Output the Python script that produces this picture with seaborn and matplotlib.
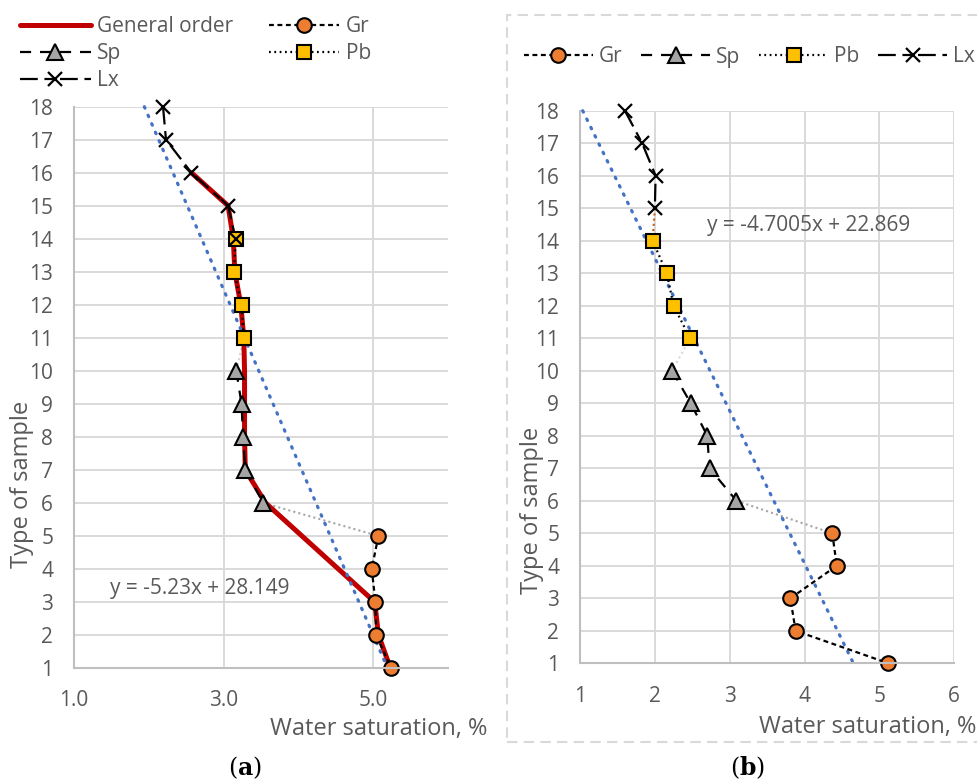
import matplotlib
matplotlib.use("Agg")
import matplotlib.pyplot as plt
import seaborn as sns
import pandas as pd
from matplotlib.patches import Rectangle

# ---------------- data ----------------
# panel (a)
y_gr = [5, 4, 3, 2, 1]
a_gr = [5.07, 4.98, 5.03, 5.04, 5.24]
y_sp = [10, 9, 8, 7, 6]
a_sp = [3.17, 3.24, 3.26, 3.29, 3.53]
y_pb = [14, 13, 12, 11]
a_pb = [3.16, 3.14, 3.24, 3.27]
y_lx_a = [18, 17, 16, 15, 14]
a_lx = [2.19, 2.23, 2.57, 3.06, 3.16]
y_general = [16, 15, 14, 13, 12, 11, 10, 9, 8, 7, 6, 3, 2, 1]
a_general = [2.57, 3.06, 3.13, 3.15, 3.23, 3.27, 3.28, 3.28, 3.28, 3.29, 3.56, 5.02, 5.07, 5.23]
trend_a = (-5.23, 28.149)

# panel (b)
b_gr = [4.37, 4.43, 3.81, 3.88, 5.12]
b_sp = [2.23, 2.48, 2.70, 2.73, 3.09]
b_pb = [1.97, 2.16, 2.25, 2.47]
y_lx_b = [18, 17, 16, 15]
b_lx = [1.60, 1.83, 2.01, 2.00]
trend_b = (-4.7005, 22.869)

y_ticks = list(range(1, 19))
xticks_a = [1, 3, 5]
xticks_b = [1, 2, 3, 4, 5, 6]

# ---------------- style ----------------
sns.set_theme(style="white")
plt.rcParams["font.family"] = ["Open Sans", "DejaVu Sans"]
plt.rcParams["mathtext.fontset"] = "dejavuserif"
TXT = "#595959"
GRID = "#d9d9d9"
TICK_FS = 15
LAB_FS = 17
LEG_FS = 15

fig = plt.figure(figsize=(9.77, 7.80), dpi=100)
W, H = 977, 780
ax_a = fig.add_axes([74 / W, 1 - 668 / H, (448 - 74) / W, (668 - 106.7) / H])
ax_b = fig.add_axes([580 / W, 1 - 663.3 / H, (954.3 - 580) / W, (663.3 - 110.7) / H])

def line(ax, x, y, **kw):
    df = pd.DataFrame({"x": x, "y": y})
    sns.lineplot(data=df, x="x", y="y", sort=False, estimator=None, ax=ax, legend=False, **kw)
    return ax.lines[-1]

def series_styles():
    return dict(
        gr=dict(color="black", lw=1.6, linestyle=(0, (2.2, 1.6)), marker="o", markersize=10.5,
                markerfacecolor="#ED7D31", markeredgecolor="black", markeredgewidth=1.5, clip_on=False),
        sp=dict(color="black", lw=1.6, linestyle=(0, (5, 4)), marker="^", markersize=11.5,
                markerfacecolor="#A5A5A5", markeredgecolor="black", markeredgewidth=1.5, clip_on=False),
        pb=dict(color="black", lw=1.6, linestyle=(0, (0.8, 1.6)), marker="s", markersize=10,
                markerfacecolor="#FFC000", markeredgecolor="black", markeredgewidth=1.5, clip_on=False),
        lx=dict(color="black", lw=1.6, linestyle=(0, (8, 3, 4, 3)), marker="x", markersize=10,
                markeredgecolor="black", markeredgewidth=1.6, clip_on=False),
    )

def setup(ax, xticks, fmt):
    ax.set_xlim(1, 6)
    ax.set_ylim(1, 18)
    ax.set_xticks(xticks)
    ax.set_xticklabels([fmt.format(t) for t in xticks])
    ax.set_yticks(y_ticks)
    ax.grid(True, color=GRID, lw=1.4)
    ax.set_axisbelow(True)
    for s in ["top", "right"]:
        ax.spines[s].set_visible(False)
    for s in ["left", "bottom"]:
        ax.spines[s].set_color("#bfbfbf")
        ax.spines[s].set_linewidth(1.5)
    ax.tick_params(axis="both", length=0, labelsize=TICK_FS, colors=TXT)
    ax.tick_params(axis="y", pad=15)
    ax.tick_params(axis="x", pad=16)

def dotted_trend(ax, coef):
    ty = [18, 1]
    line(ax, [(v - coef[1]) / coef[0] for v in ty], ty, color="#4472C4", lw=2.3,
         linestyle=(0, (0.5, 2.4)), dash_capstyle="round", clip_on=False)

# ---------------- panel (a) ----------------
ax = ax_a
setup(ax, xticks_a, "{:.1f}")
st = series_styles()
line(ax, [a_pb[-1], a_sp[0]], [y_pb[-1], y_sp[0]], color="#d4d4d4", lw=1.5, linestyle=(0, (1, 1.5)))
line(ax, [a_sp[-1], a_gr[0]], [y_sp[-1], y_gr[0]], color="#a6a6a6", lw=1.5, linestyle=(0, (1, 1.5)))
h_gen = line(ax, a_general, y_general, color="#C00000", lw=3.6, solid_joinstyle="round",
             solid_capstyle="round", clip_on=False)
dotted_trend(ax, trend_a)
h_lx = line(ax, a_lx, y_lx_a, **st["lx"])
h_sp = line(ax, a_sp, y_sp, **st["sp"])
h_pb = line(ax, a_pb, y_pb, **st["pb"])
h_gr = line(ax, a_gr, y_gr, **st["gr"])
line(ax, a_lx[-1:], y_lx_a[-1:], **st["lx"])
ax.set_xlim(1, 6); ax.set_ylim(1, 18)
ax.text(1.48, 3.42, "y = -5.23x + 28.149", fontsize=TICK_FS, color=TXT, va="center", ha="left")
ax.set_xlabel("Water saturation, %", fontsize=LAB_FS, color=TXT, loc="right")
ax.xaxis.set_label_coords(1.104, -0.088)
ax.set_ylabel("Type of sample", fontsize=LAB_FS, color=TXT, va="center")
ax.yaxis.set_label_coords(-0.139, 0.328)
leg_a = ax.legend([h_gen, h_sp, h_lx, h_gr, h_pb], ["General order", "Sp", "Lx", "Gr", "Pb"],
                  ncol=2, loc="upper left", bbox_to_anchor=(20 / W, 1 - 16 / H),
                  bbox_transform=fig.transFigure, frameon=False, fontsize=LEG_FS,
                  handlelength=3.4, handletextpad=0.3, labelspacing=0.3,
                  columnspacing=1.7, borderpad=0, borderaxespad=0)
for t in leg_a.get_texts():
    t.set_color(TXT)

# ---------------- panel (b) ----------------
ax = ax_b
setup(ax, xticks_b, "{:d}")
st = series_styles()
line(ax, [b_lx[-1], b_pb[0]], [y_lx_b[-1], y_pb[0]], color="#C55A11", lw=1.5, linestyle=(0, (1, 1.5)))
line(ax, [b_pb[-1], b_sp[0]], [y_pb[-1], y_sp[0]], color="#d9d9d9", lw=1.5, linestyle=(0, (1, 1.5)))
line(ax, [b_sp[-1], b_gr[0]], [y_sp[-1], y_gr[0]], color="#a6a6a6", lw=1.5, linestyle=(0, (1, 1.5)))
dotted_trend(ax, trend_b)
hb_lx = line(ax, b_lx, y_lx_b, **st["lx"])
hb_sp = line(ax, b_sp, y_sp, **st["sp"])
hb_pb = line(ax, b_pb, y_pb, **st["pb"])
hb_gr = line(ax, b_gr, y_gr, **st["gr"])
ax.set_xlim(1, 6); ax.set_ylim(1, 18)
ax.text(2.70, 14.46, "y = -4.7005x + 22.869", fontsize=TICK_FS, color=TXT, va="center", ha="left")
ax.set_xlabel("Water saturation, %", fontsize=LAB_FS, color=TXT, loc="right")
ax.xaxis.set_label_coords(1.058, -0.093)
ax.set_ylabel("Type of sample", fontsize=LAB_FS, color=TXT, va="center")
ax.yaxis.set_label_coords(-0.129, 0.276)
leg_b = ax.legend([hb_gr, hb_sp, hb_pb, hb_lx], ["Gr", "Sp", "Pb", "Lx"],
                  ncol=4, loc="center left", bbox_to_anchor=(524 / W, 1 - 57 / H),
                  bbox_transform=fig.transFigure, frameon=False, fontsize=LEG_FS,
                  handlelength=3.3, handletextpad=0.3, columnspacing=0.9,
                  borderpad=0, borderaxespad=0)
for t in leg_b.get_texts():
    t.set_color(TXT)

# dashed frame around panel (b)
fig.patches.append(Rectangle((506.7 / W, 1 - 742 / H), (990 - 506.7) / W, (742 - 15) / H,
                             transform=fig.transFigure, fill=False, edgecolor="#d9d9d9",
                             lw=1.5, linestyle=(0, (5, 3)), zorder=0))

# sub-labels
fig.text(245 / W, 1 - 768 / H, r"($\mathbf{a}$)", fontsize=17, ha="center", va="center",
         family="DejaVu Serif", color="black")
fig.text(748 / W, 1 - 768 / H, r"($\mathbf{b}$)", fontsize=17, ha="center", va="center",
         family="DejaVu Serif", color="black")

fig.savefig("out.png", dpi=100)
